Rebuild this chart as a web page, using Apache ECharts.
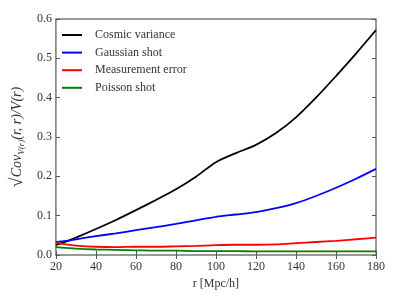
<!DOCTYPE html>
<html><head><meta charset="utf-8">
<script src="https://cdn.jsdelivr.net/npm/echarts@6/dist/echarts.min.js"></script>
<style>html,body{margin:0;padding:0;background:#fff}#c{width:399px;height:299px}</style>
</head><body><div id="c"></div>
<script>
var r = [20, 25, 30, 40, 50, 60, 70, 80, 90, 100, 110, 120, 130, 140, 150, 160, 170, 180];
var cosmic = [0.026, 0.034, 0.044, 0.066, 0.089, 0.114, 0.140, 0.167, 0.199, 0.236, 0.259, 0.280, 0.310, 0.350, 0.400, 0.455, 0.512, 0.572];
var gauss = [0.033, 0.036, 0.040, 0.048, 0.055, 0.063, 0.071, 0.079, 0.088, 0.097, 0.103, 0.109, 0.119, 0.132, 0.150, 0.171, 0.194, 0.219];
var meas = [0.031, 0.027, 0.024, 0.021, 0.020, 0.021, 0.021, 0.022, 0.023, 0.025, 0.026, 0.026, 0.027, 0.030, 0.033, 0.036, 0.040, 0.044];
var poisson = [0.020, 0.018, 0.016, 0.014, 0.013, 0.012, 0.011, 0.011, 0.010, 0.010, 0.010, 0.009, 0.009, 0.009, 0.009, 0.009, 0.009, 0.009];
var names = ['Cosmic variance', 'Gaussian shot', 'Measurement error', 'Poisson shot'];
var colors = ['#000000', '#0000ff', '#ff0000', '#008000'];
var xTicks = [20, 40, 60, 80, 100, 120, 140, 160, 180];
var yTicks = [0.0, 0.1, 0.2, 0.3, 0.4, 0.5, 0.6];

var FONT = 'Liberation Serif';
function pairs(ys){ return r.map(function(x,i){ return [x, ys[i]]; }); }
var all = [cosmic, gauss, meas, poisson];
var chart = echarts.init(document.getElementById('c'));
var tickStyle = {show:true, inside:true, length:4, lineStyle:{color:'#555', width:1}};
chart.setOption({
  animation:false,
  grid:{left:49, right:23, top:19, bottom:44, show:true, borderColor:'#777', borderWidth:1.5},
  legend:{
    left:62, top:29, orient:'vertical', itemWidth:20, itemHeight:2, itemGap:5.6,
    icon:'rect', padding:0,
    textStyle:{fontFamily:FONT, fontSize:12, color:'#333', padding:[0,0,0,8]},
    data:names
  },
  xAxis:[{
    type:'value', min:xTicks[0], max:xTicks[xTicks.length-1], interval:20,
    name:'r [Mpc/h]', nameLocation:'middle', nameGap:23,
    nameTextStyle:{fontFamily:FONT, fontSize:12, color:'#333'},
    axisLine:{show:false}, axisTick:tickStyle, splitLine:{show:false},
    axisLabel:{fontFamily:FONT, fontSize:12, color:'#333', margin:6}
  },{
    type:'value', position:'top', min:20, max:180, interval:20,
    axisLine:{show:false}, axisTick:tickStyle, splitLine:{show:false}, axisLabel:{show:false}
  }],
  yAxis:[{
    type:'value', min:yTicks[0], max:yTicks[yTicks.length-1], interval:0.1,
    name:'{a|√}{b|Cov}{s|V(r)}{b|(r, r)/V(r)}', nameLocation:'middle', nameGap:28, nameRotate:90,
    nameTextStyle:{fontFamily:FONT, color:'#333', rich:{
      a:{fontFamily:FONT, fontSize:18, color:'#333'},
      b:{fontFamily:FONT, fontSize:14, fontStyle:'italic', color:'#333'},
      s:{fontFamily:FONT, fontSize:9, fontStyle:'italic', color:'#333', verticalAlign:'bottom', padding:[7,0,0,0]}
    }},
    axisLine:{show:false}, axisTick:tickStyle, splitLine:{show:false},
    axisLabel:{fontFamily:FONT, fontSize:12, color:'#333', margin:4, formatter:function(v){return v.toFixed(1);}}
  },{
    type:'value', position:'right', min:0, max:0.6, interval:0.1,
    axisLine:{show:false}, axisTick:tickStyle, splitLine:{show:false}, axisLabel:{show:false}
  }],
  series: all.map(function(ys,i){
    return {name:names[i], type:'line', data:pairs(ys), smooth:0.3, showSymbol:false,
      symbol:'none', color:colors[i], lineStyle:{color:colors[i], width:1.8}};
  })
});
</script></body></html>
